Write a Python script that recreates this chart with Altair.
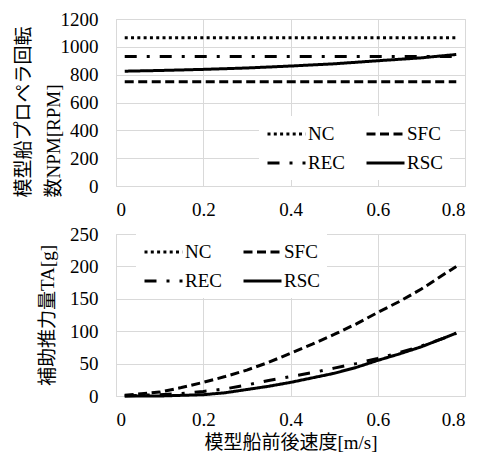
import altair as alt
import pandas as pd

FONT = "Liberation Serif, Noto Sans CJK JP, serif"

series = ["NC", "SFC", "REC", "RSC"]
dashes = [[3, 3.3], [9, 4.5], [12, 10, 3, 10], [1, 0]]

# Top panel: propeller revolution [RPM]
v_top = [0.02, 0.1, 0.2, 0.3, 0.4, 0.5, 0.6, 0.7, 0.78]
nc_top = [1065, 1065, 1065, 1065, 1065, 1065, 1065, 1065, 1065]
sfc_top = [750, 750, 750, 750, 750, 750, 750, 750, 750]
rec_top = [930, 930, 930, 930, 930, 930, 930, 930, 930]
rsc_top = [825, 830, 838, 848, 862, 878, 900, 921, 945]

# Bottom panel: auxiliary thrust [g] (NC has no auxiliary thrust curve)
v_bot = [0.02, 0.05, 0.1, 0.15, 0.2, 0.25, 0.3, 0.35, 0.4, 0.45, 0.5,
         0.55, 0.6, 0.65, 0.7, 0.75, 0.78]
sfc_bot = [1, 3, 6, 13, 21, 30, 40, 52, 66, 80, 95, 111, 129, 146, 165, 187, 200]
rec_bot = [0, 1, 2, 4, 7, 11, 17, 24, 30, 36, 43, 50, 58, 67, 77, 89, 97]
rsc_bot = [0, 0, 0, 1, 2, 5, 10, 15, 21, 28, 35, 44, 55, 65, 76, 89, 97]


def long_df(v, names, cols):
    rows = []
    for name, vals in zip(names, cols):
        for i, (x, y) in enumerate(zip(v, vals)):
            rows.append({"v": x, "y": y, "s": name, "i": i})
    return pd.DataFrame(rows)


df_top = long_df(v_top, series, [nc_top, sfc_top, rec_top, rsc_top])
df_bot = long_df(v_bot, ["SFC", "REC", "RSC"], [sfc_bot, rec_bot, rsc_bot])

axis_style = dict(labelFont=FONT, labelFontSize=19, labelColor="black",
                  titleFont=FONT, titleFontSize=19, titleFontWeight="normal",
                  titleColor="black", gridColor="#d9d9d9", domain=False,
                  ticks=False, tickSize=0)


def panel(df, ymax, ystep, ytitle, ytx, yty, yalign, lx, ly, w, h, xtitle, xpad):
    if xtitle:
        xaxis = alt.Axis(values=[0, 0.2, 0.4, 0.6, 0.8], format=".1~f",
                         labelPadding=xpad, title=xtitle, titleY=46,
                         titleBaseline="middle", **axis_style)
    else:
        xaxis = alt.Axis(values=[0, 0.2, 0.4, 0.6, 0.8], format=".1~f",
                         labelPadding=xpad, title=None, **axis_style)
    return alt.Chart(df).mark_line(strokeWidth=3, color="black").encode(
        x=alt.X("v:Q", scale=alt.Scale(domain=[0, 0.8], nice=False), axis=xaxis),
        y=alt.Y("y:Q", scale=alt.Scale(domain=[0, ymax], nice=False),
                axis=alt.Axis(values=list(range(0, ymax + 1, ystep)), format="d",
                              labelPadding=18, title=ytitle, titleX=ytx,
                              titleY=yty, titleAlign=yalign,
                              titleBaseline="middle", titleLineHeight=30,
                              **axis_style)),
        strokeDash=alt.StrokeDash(
            "s:N",
            scale=alt.Scale(domain=series, range=dashes),
            legend=alt.Legend(orient="none", legendX=lx, legendY=ly, columns=2,
                              direction="horizontal",
                              title=None, symbolType="M-1,0H3", symbolSize=361,
                              symbolStrokeWidth=3, symbolStrokeColor="black",
                              labelOffset=20, labelFont=FONT, labelFontSize=19,
                              labelColor="black", fillColor="white",
                              padding=7, columnPadding=15, rowPadding=8)),
        detail="s:N",
        order="i:Q",
    ).properties(width=w, height=h)


top = panel(df_top, 1200, 200, ["模型船プロペラ回転", "数NPM[RPM]"], -93, 178, "left",
            143, 97, 349, 167, None, 14)
bottom = panel(df_bot, 250, 50, "補助推力量TA[g]", -69, 81, "center",
               20, 0, 349, 162, "模型船前後速度[m/s]", 14)

chart = alt.vconcat(top, bottom, spacing=4).resolve_legend(
    strokeDash="independent"
).properties(
    padding={"left": 5, "top": 1, "right": 5, "bottom": 5}
).configure(
    font=FONT,
    style={"guide-label": {"font": FONT, "fontSize": 19, "fill": "black"},
           "guide-title": {"font": FONT, "fontSize": 19, "fill": "black"}},
).configure_view(stroke="#d9d9d9").configure_axis(labelFont=FONT)

chart.save("out.html", embed_options={"renderer": "svg", "actions": False})
